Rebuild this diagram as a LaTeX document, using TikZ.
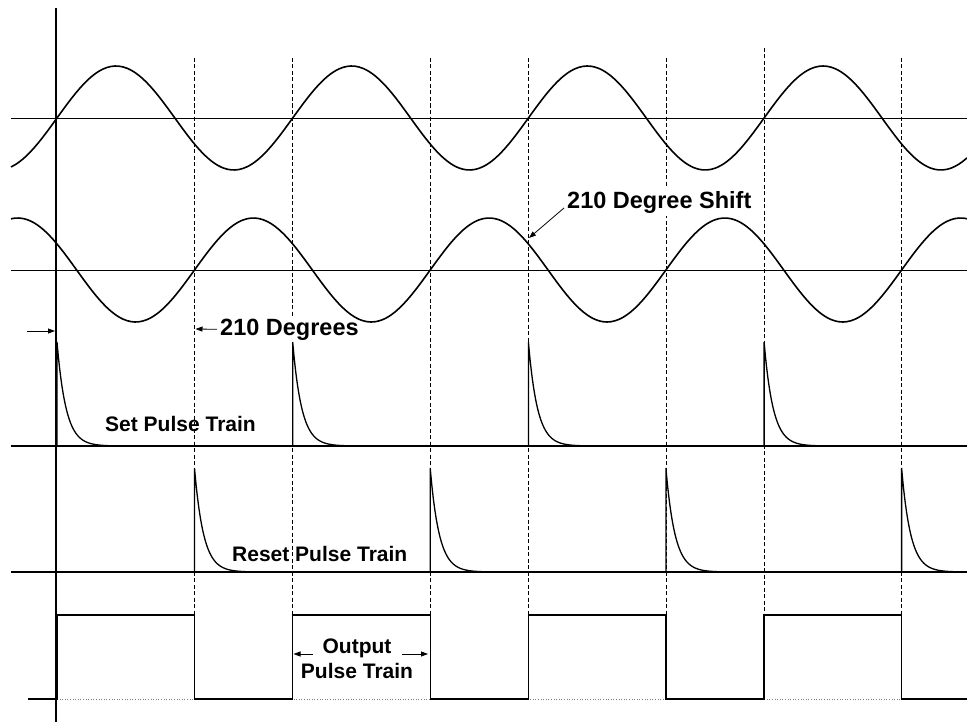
\documentclass[tikz,border=0pt]{standalone}
\usepackage{fontspec}
\setmainfont{Liberation Sans}
\usetikzlibrary{arrows.meta}

\begin{document}
\begin{tikzpicture}[x=1pt, y=-1pt, >={Triangle[length=7pt,width=5pt]},
    wave/.style={line width=1.6pt},
    pulse/.style={line width=1.3pt},
    axisline/.style={line width=0.7pt},
    guide/.style={line width=0.6pt, dash pattern=on 4pt off 2.5pt},
    lbl/.style={font=\bfseries\fontsize{21}{25}\selectfont, inner sep=0pt},
    biglbl/.style={font=\bfseries\fontsize{23.5}{28}\selectfont, inner sep=3pt, fill=white}]
    \useasboundingbox (0,0) rectangle (967,725);

    % Dashed guides at the zero crossings
    \foreach \k/\top in {0/58,1/58,2/58,3/48} {
        \pgfmathsetmacro\xr{57+235.7*\k}
        \pgfmathsetmacro\xf{194.5+235.7*\k}
        \ifnum\k>0 \draw[guide] (\xr,\top) -- (\xr,615); \fi
        \draw[guide] (\xf,58) -- (\xf,615);
    }

    % Labels
    \node[biglbl, anchor=base west] (shift) at (564,208) {210 Degree Shift};
    \node[biglbl, anchor=base west] (deg) at (217,335) {210 Degrees};
    \node[lbl, anchor=base west] (set) at (105,431) {Set Pulse Train};
    \node[lbl, anchor=base west] (reset) at (232,561) {Reset Pulse Train};
    \node[lbl, align=center] (out) at (357,659) {Output\\Pulse Train};

    % Axes
    \draw[line width=1.6pt] (56,8) -- (56,722);
    \draw[axisline] (11,118) -- (967,118);
    \draw[axisline] (11,270) -- (967,270);

    % Two sine waves, 210 degrees apart
    \draw[wave] plot[domain=11:967, samples=240, smooth] (\x, {118-52*sin((\x-57)/235.7*360)});
    \draw[wave] plot[domain=11:967, samples=240, smooth] (\x, {270-52*sin((\x-194.5)/235.7*360)});

    % Set and reset pulse trains
    \draw[pulse] (11,446) -- (967,446);
    \draw[pulse] (11,572) -- (967,572);
    \foreach \k in {0,...,3} {
        \pgfmathsetmacro\xr{57+235.7*\k}
        \pgfmathsetmacro\xf{194.5+235.7*\k}
        \draw[pulse] (\xr,446) -- (\xr,342)
            plot[domain=0:60, samples=50, smooth] ({\xr+\x}, {446-104*exp(-\x/9)});
        \draw[pulse] (\xf,572) -- (\xf,468)
            plot[domain=0:60, samples=50, smooth] ({\xf+\x}, {572-104*exp(-\x/9)});
    }

    % Output pulse train
    \draw[line width=0.6pt, gray, dotted] (57,699) -- (967,699);
    \draw[pulse] (28,699) -- (57,699) -- (57,615) -- (194.5,615) -- (194.5,699)
        -- (292.7,699) -- (292.7,615) -- (430.2,615) -- (430.2,699)
        -- (528.4,699) -- (528.4,615) -- (665.9,615) -- (665.9,699)
        -- (764.1,699) -- (764.1,615) -- (901.6,615) -- (901.6,699) -- (967,699);

    % Arrows
    \coordinate (hit) at (529,238);
    \coordinate (d210) at (195.5,329);
    \coordinate (zl) at (27,331);
    \coordinate (zr) at (55,331);
    \coordinate (rise) at (293.5,654);
    \coordinate (fall) at (428,654);
    \draw[->, line width=0.8pt] (shift.base west) -- (hit);
    \draw[->, line width=0.8pt] (deg.west) -- (d210);
    \draw[->, line width=0.8pt] (zl) -- (zr);
    \draw[->, line width=0.8pt] ([xshift=12pt]out.west |- rise) -- (rise);
    \draw[->, line width=0.8pt] ([xshift=-11pt]out.east |- fall) -- (fall);

\end{tikzpicture}
\end{document}
